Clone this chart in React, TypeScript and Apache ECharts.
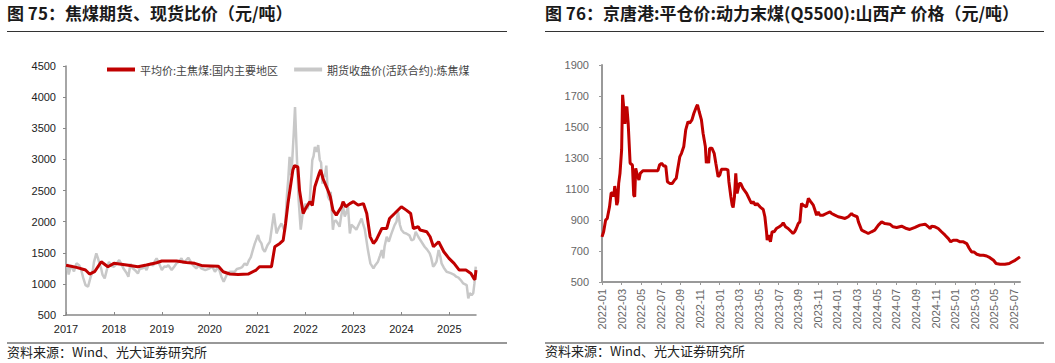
import React, { useEffect, useRef } from 'react';
import * as echarts from 'echarts';

// ---- Left chart: 焦煤期货、现货比价 ----
const spotName = '平均价:主焦煤:国内主要地区';
const futName = '期货收盘价(活跃合约):炼焦煤';
const spotDates = [
  '2017-01-01','2017-03-20','2017-05-28','2017-06-28','2017-08-06','2017-09-26','2017-11-16',
  '2018-01-01','2018-04-20','2018-07-01','2018-09-06','2018-11-22',
  '2019-01-01','2019-04-22','2019-07-05','2019-09-08','2019-11-10',
  '2020-03-06','2020-04-12','2020-06-02','2020-08-04','2020-10-20','2020-12-20',
  '2021-01-15','2021-04-15','2021-05-10','2021-06-18','2021-07-13','2021-08-01','2021-08-19','2021-09-26','2021-10-08','2021-11-03','2021-11-16','2021-12-13',
  '2022-01-01','2022-02-03','2022-02-22','2022-03-11','2022-04-13','2022-04-25','2022-05-12','2022-06-20','2022-07-07','2022-07-27','2022-08-22','2022-10-01','2022-10-13','2022-11-03','2022-12-04',
  '2023-01-01','2023-02-06','2023-03-16','2023-04-11','2023-05-06','2023-06-01','2023-06-21','2023-08-04','2023-09-11','2023-10-02','2023-11-10',
  '2024-01-01','2024-02-08','2024-03-11','2024-04-01','2024-05-08','2024-05-22','2024-07-12','2024-08-07','2024-09-02','2024-10-11','2024-11-20','2024-12-29',
  '2025-02-07','2025-03-16','2025-05-06','2025-06-14','2025-07-08','2025-07-14','2025-07-22',
];
const spotValues = [
  1300,1265,1222,1158,1195,1356,1276,
  1330,1300,1275,1302,1340,
  1367,1367,1345,1330,1290,
  1285,1195,1158,1152,1158,1222,
  1275,1275,1597,1650,1700,1970,2290,2830,2900,2880,2500,2130,
  2210,2320,2260,2560,2770,2830,2690,2500,2400,2185,2105,2240,2320,2240,2290,
  2320,2265,2290,2130,1760,1650,1700,1890,1890,2050,2130,
  2240,2185,2130,1890,1918,1865,1837,1757,1597,1677,1516,1410,
  1330,1222,1222,1168,1080,1070,1222,
];
const futDates = [
  '2017-01-01','2017-01-10','2017-01-21','2017-02-10','2017-03-01','2017-03-20','2017-04-10','2017-04-26','2017-05-10','2017-05-28','2017-06-17','2017-07-05','2017-07-23','2017-08-01','2017-08-19','2017-08-30','2017-09-13','2017-09-25','2017-10-05','2017-10-22','2017-11-05','2017-11-24','2017-12-10',
  '2018-01-01','2018-01-20','2018-02-11','2018-02-25','2018-03-12','2018-04-05','2018-04-20','2018-05-05','2018-05-23','2018-06-10','2018-07-01','2018-07-15','2018-08-07','2018-08-20','2018-09-06','2018-09-20','2018-10-12','2018-10-25','2018-11-08','2018-11-22','2018-12-10',
  '2019-01-01','2019-01-20','2019-02-06','2019-02-20','2019-03-15','2019-04-05','2019-04-22','2019-05-12','2019-05-29','2019-06-15','2019-07-05','2019-07-20','2019-08-08','2019-08-25','2019-09-20','2019-10-10','2019-10-27','2019-11-28',
  '2020-01-01','2020-01-20','2020-02-10','2020-03-06','2020-03-29','2020-04-16','2020-05-10','2020-06-02','2020-07-09','2020-07-25','2020-08-15','2020-09-05','2020-09-24','2020-10-10','2020-10-27','2020-11-10','2020-11-25','2020-12-10',
  '2021-01-04','2021-01-15','2021-01-30','2021-02-10','2021-02-25','2021-03-15','2021-04-03','2021-04-15','2021-05-03','2021-05-23','2021-06-10','2021-06-30','2021-07-10','2021-07-26','2021-08-12','2021-08-22','2021-09-01','2021-09-10','2021-09-17','2021-10-02','2021-10-12','2021-10-27','2021-11-09','2021-11-25','2021-12-13',
  '2022-01-01','2022-01-15','2022-02-03','2022-02-22','2022-03-01','2022-03-11','2022-03-25','2022-04-06','2022-04-18','2022-04-28','2022-05-08','2022-05-18','2022-05-26','2022-06-07','2022-06-20','2022-07-01','2022-07-10','2022-07-27','2022-08-05','2022-08-17','2022-09-01','2022-09-17','2022-09-30','2022-10-13','2022-10-26','2022-11-08','2022-11-20','2022-12-04','2022-12-15',
  '2023-01-01','2023-01-23','2023-02-10','2023-03-02','2023-03-15','2023-03-27','2023-04-20','2023-05-08','2023-06-01','2023-06-15','2023-07-05','2023-07-20','2023-08-04','2023-08-15','2023-08-25','2023-09-11','2023-09-27','2023-10-15','2023-11-10','2023-11-25','2023-12-06','2023-12-20',
  '2024-01-01','2024-01-20','2024-02-08','2024-03-01','2024-03-17','2024-04-05','2024-04-19','2024-05-08','2024-05-25','2024-06-26','2024-07-15','2024-08-04','2024-08-15','2024-08-30','2024-09-10','2024-09-25','2024-10-11','2024-10-25','2024-11-03','2024-11-20','2024-12-11',
  '2025-01-01','2025-01-16','2025-02-05','2025-02-24','2025-03-10','2025-04-01','2025-04-16','2025-05-12','2025-05-24','2025-06-05','2025-06-19','2025-07-01','2025-07-10','2025-07-20',
];
const futValues = [
  1276,1320,1150,1300,1200,1330,1300,1222,1100,980,955,1100,1222,1350,1490,1420,1330,1250,1150,1088,1200,1356,1290,
  1276,1320,1383,1330,1250,1180,1115,1320,1250,1220,1168,1240,1250,1280,1222,1300,1330,1290,1360,1410,1330,
  1222,1280,1276,1300,1222,1280,1330,1360,1410,1330,1383,1420,1356,1300,1250,1300,1250,1222,
  1250,1280,1195,1276,1115,1035,1150,1195,1195,1240,1250,1270,1330,1300,1383,1430,1543,1650,
  1784,1700,1650,1560,1516,1620,1677,1860,2130,1810,1900,1970,1920,1837,2450,2700,3040,2750,2830,3410,3840,2990,2350,1870,2185,
  2290,2200,2345,2990,3050,3200,3120,3230,2990,2950,2610,2750,2720,2900,2400,2350,2480,1870,2000,2020,1980,1918,2100,2240,2080,2150,2240,1810,1950,
  1918,1870,1950,2050,1950,1870,1543,1330,1250,1300,1356,1450,1543,1410,1600,1757,1677,1800,1944,2000,2160,1950,
  1870,1820,1810,1780,1700,1720,1837,1757,1700,1597,1550,1490,1420,1276,1300,1356,1543,1430,1330,1260,1195,
  1180,1168,1150,1115,1100,1050,1008,980,767,850,820,850,1008,1276,
];

// ---- Right chart: 京唐港 动力末煤 ----
const portDates = [
  '2022-01-01','2022-01-06','2022-01-12','2022-01-17','2022-01-24','2022-01-29','2022-02-04','2022-02-07','2022-02-10','2022-02-12','2022-02-16','2022-02-19','2022-02-22','2022-02-26',
  '2022-03-01','2022-03-04','2022-03-08','2022-03-11','2022-03-14','2022-03-17','2022-03-21','2022-03-27','2022-04-04','2022-04-08','2022-04-11','2022-04-14','2022-04-19','2022-04-24','2022-04-28',
  '2022-05-06','2022-06-22','2022-06-27','2022-07-03','2022-07-10','2022-07-16','2022-07-21','2022-07-28','2022-08-06','2022-08-13','2022-08-18','2022-08-22','2022-08-29',
  '2022-09-04','2022-09-11','2022-09-17','2022-09-24','2022-09-29','2022-10-06','2022-10-12','2022-10-20','2022-10-23','2022-10-28','2022-11-05','2022-11-10','2022-11-17','2022-11-20','2022-11-23','2022-11-27','2022-11-30',
  '2022-12-07','2022-12-14','2022-12-19','2022-12-26',
  '2023-01-01','2023-01-06','2023-01-21','2023-01-26','2023-01-29','2023-02-05','2023-02-09','2023-02-12','2023-02-16','2023-02-20','2023-02-24','2023-03-01','2023-03-05','2023-03-12','2023-03-23',
  '2023-04-03','2023-04-08','2023-04-13','2023-04-20','2023-04-25','2023-05-04','2023-05-14','2023-05-19','2023-05-24','2023-05-26','2023-06-01','2023-06-06','2023-06-11','2023-06-17','2023-06-24',
  '2023-07-03','2023-07-10','2023-07-15','2023-07-22','2023-07-30','2023-08-10','2023-08-15','2023-08-20','2023-08-25','2023-09-01','2023-09-06','2023-09-11','2023-09-16','2023-09-26',
  '2023-10-02','2023-10-09','2023-10-17','2023-10-22','2023-10-27','2023-11-02','2023-11-07','2023-11-17','2023-11-27','2023-12-08','2023-12-13','2023-12-23',
  '2024-01-03','2024-01-13','2024-01-24','2024-02-04','2024-02-14','2024-02-19','2024-03-01','2024-03-05','2024-03-15','2024-03-25','2024-04-05','2024-04-15','2024-04-25',
  '2024-05-06','2024-05-16','2024-05-26','2024-06-11','2024-06-21','2024-07-02','2024-07-17','2024-08-02','2024-08-12','2024-08-28','2024-09-13','2024-09-29',
  '2024-10-09','2024-10-14','2024-10-19','2024-10-29','2024-11-09','2024-11-19','2024-11-30','2024-12-10','2024-12-17','2024-12-25',
  '2025-01-05','2025-01-16','2025-01-26','2025-02-06','2025-02-14','2025-02-21','2025-02-28','2025-03-07','2025-03-17','2025-03-27','2025-04-07','2025-04-17','2025-04-28',
  '2025-05-06','2025-05-18','2025-06-03','2025-06-16','2025-06-24','2025-07-04','2025-07-19',
];
const portValues = [
  791,824,899,910,985,1075,1075,1050,1119,1093,996,1018,1136,1201,
  1352,1708,1611,1520,1611,1632,1525,1266,1255,1060,1050,1233,1190,1158,1201,
  1218,1218,1255,1266,1248,1248,1147,1136,1136,1158,1169,1223,1309,
  1330,1374,1481,1535,1525,1546,1589,1632,1643,1600,1546,1460,1374,1266,1309,1266,1363,
  1363,1330,1266,1179,
  1190,1227,1227,1223,1147,1050,996,981,1050,1201,1072,1136,1136,1104,1072,
  1028,1007,1018,996,1007,985,968,921,824,770,802,759,824,824,845,
  856,867,882,856,845,824,813,824,845,877,888,1007,996,985,
  1039,1018,996,964,931,953,931,931,942,953,942,931,
  921,916,910,921,942,931,921,888,834,824,813,824,834,
  867,888,877,873,856,852,860,845,839,852,867,873,
  856,845,860,856,845,824,802,780,759,770,
  770,759,759,748,716,694,694,679,673,673,668,657,640,
  619,614,614,619,629,640,662,
];

const leftYearMin = 2017;
const rightStartYear = 2022;

function yearFrac(d: string): number {
  const [y, m, dd] = d.split('-').map(Number);
  return y + (m - 1) / 12 + (dd - 1) / 365;
}
function monthIdx(d: string): number {
  const [y, m, dd] = d.split('-').map(Number);
  return (y - rightStartYear) * 12 + (m - 1) + (dd - 1) / 30;
}

export default function App() {
  const ref = useRef<HTMLDivElement>(null);
  useEffect(() => {
    if (!ref.current) return;
    const chart = echarts.init(ref.current, undefined, { renderer: 'svg' });
    const spotData = spotDates.map((d, i) => [yearFrac(d), spotValues[i]]);
    const futData = futDates.map((d, i) => [yearFrac(d), futValues[i]]);
    const portData = portDates.map((d, i) => [monthIdx(d), portValues[i]]);
    const leftMax = yearFrac(spotDates[spotDates.length - 1]);
    const rightMax = monthIdx(portDates[portDates.length - 1]);
    const cjk = '"Noto Sans CJK SC", "Noto Sans", sans-serif';
    const latin = '"Liberation Sans", Arial, sans-serif';
    const lineStyle = { stroke: '#333', lineWidth: 1.2 };
    const plain = (v: number) => String(v);

    chart.setOption({
      animation: false,
      backgroundColor: '#fff',
      graphic: [
        { type: 'text', left: 7, top: 4, style: { text: '图 75：焦煤期货、现货比价（元/吨）', fontSize: 17, fontWeight: 'bold', fill: '#1a1a1a', fontFamily: cjk } },
        { type: 'text', left: 545, top: 4, style: { text: '图 76：京唐港:平仓价:动力末煤(Q5500):山西产 价格（元/吨）', fontSize: 17, fontWeight: 'bold', fill: '#1a1a1a', fontFamily: cjk } },
        { type: 'line', shape: { x1: 7, y1: 31.5, x2: 507, y2: 31.5 }, style: lineStyle },
        { type: 'line', shape: { x1: 545, y1: 31.5, x2: 1044, y2: 31.5 }, style: lineStyle },
        { type: 'line', shape: { x1: 7, y1: 343, x2: 507, y2: 343 }, style: lineStyle },
        { type: 'line', shape: { x1: 545, y1: 343, x2: 1044, y2: 343 }, style: lineStyle },
        { type: 'text', left: 7, top: 345, style: { text: '资料来源：Wind、光大证券研究所', fontSize: 13, fill: '#222', fontFamily: cjk } },
        { type: 'text', left: 545, top: 344, style: { text: '资料来源：Wind、光大证券研究所', fontSize: 13, fill: '#222', fontFamily: cjk } },
      ],
      legend: {
        left: 102,
        top: 59,
        itemWidth: 28,
        itemHeight: 4,
        itemGap: 16,
        icon: 'rect',
        textStyle: { fontSize: 11, color: '#444', fontFamily: cjk },
        data: [spotName, futName],
      },
      grid: [
        { left: 66, top: 66, width: 410, height: 249 },
        { left: 602, top: 65, width: 418, height: 217 },
      ],
      xAxis: [
        {
          type: 'value', gridIndex: 0, min: leftYearMin, max: leftMax, interval: 1,
          splitLine: { show: false },
          axisLine: { lineStyle: { color: '#888', width: 1.5 } },
          axisTick: { inside: true, length: 3, lineStyle: { color: '#888' } },
          axisLabel: {
            showMaxLabel: false, margin: 8, fontSize: 11, color: '#222', fontFamily: latin,
            formatter: (v: number) => (Math.abs(v - Math.round(v)) < 1e-6 ? String(Math.round(v)) : ''),
          },
        },
        {
          type: 'value', gridIndex: 1, min: 0, max: rightMax, interval: 2,
          splitLine: { show: false },
          axisLine: { lineStyle: { color: '#999', width: 2 } },
          axisTick: { length: 3, lineStyle: { color: '#999' } },
          axisLabel: {
            showMaxLabel: false, rotate: 90, margin: 7, fontSize: 11, color: '#666', fontFamily: latin,
            formatter: (v: number) => {
              const r = Math.round(v);
              if (Math.abs(v - r) > 1e-6) return '';
              const y = rightStartYear + Math.floor(r / 12);
              const m = (r % 12) + 1;
              return `${y}-${m < 10 ? '0' + m : m}`;
            },
          },
        },
      ],
      yAxis: [
        {
          type: 'value', gridIndex: 0, min: 500, max: 4500, interval: 500,
          splitLine: { show: false },
          axisLine: { show: true, lineStyle: { color: '#888', width: 1.5 } },
          axisTick: { show: true, length: 3, lineStyle: { color: '#888' } },
          axisLabel: { margin: 10, fontSize: 11, color: '#222', fontFamily: latin, formatter: plain },
        },
        {
          type: 'value', gridIndex: 1, min: 500, max: 1900, interval: 200,
          splitLine: { show: false },
          axisLine: { show: true, lineStyle: { color: '#999', width: 2 } },
          axisTick: { show: true, length: 3, lineStyle: { color: '#999' } },
          axisLabel: { margin: 13, fontSize: 11, color: '#666', fontFamily: latin, formatter: plain },
        },
      ],
      series: [
        {
          name: spotName, type: 'line', xAxisIndex: 0, yAxisIndex: 0, data: spotData,
          showSymbol: false, symbol: 'none', z: 3,
          lineStyle: { color: '#c00000', width: 3 }, itemStyle: { color: '#c00000' },
        },
        {
          name: futName, type: 'line', xAxisIndex: 0, yAxisIndex: 0, data: futData,
          showSymbol: false, symbol: 'none', z: 2,
          lineStyle: { color: '#c8c8c8', width: 2.5 }, itemStyle: { color: '#c8c8c8' },
        },
        {
          name: 'port', type: 'line', xAxisIndex: 1, yAxisIndex: 1, data: portData,
          showSymbol: false, symbol: 'none',
          lineStyle: { color: '#c00000', width: 3 }, itemStyle: { color: '#c00000' },
        },
      ],
    });
    return () => chart.dispose();
  }, []);
  return <div ref={ref} style={{ position: 'fixed', left: 0, top: 0, width: 1055, height: 363 }} />;
}
